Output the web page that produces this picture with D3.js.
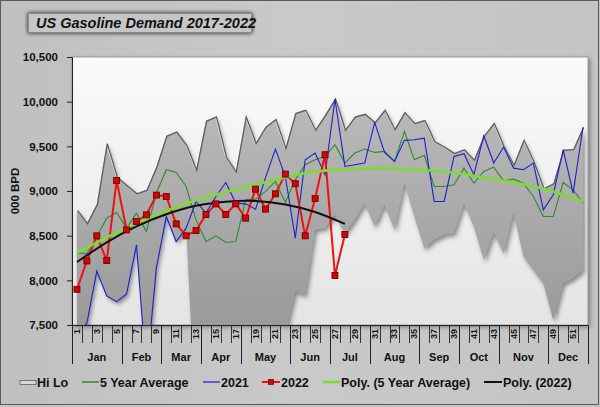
<!DOCTYPE html>
<html><head><meta charset="utf-8">
<script src="https://cdn.jsdelivr.net/npm/d3@7"></script>
<style>
body{margin:0;background:#fff}
svg{display:block;font-family:"Liberation Sans",Arial,sans-serif}
</style>
</head><body>
<svg id="c" width="600" height="407"></svg>
<script>
// ---------- data ----------
const weeks = d3.range(1, 53);
const months = ["Jan","Feb","Mar","Apr","May","Jun","Jul","Aug","Sep","Oct","Nov","Dec"];
const monthWeekCounts = [5,4,4,4,5,4,4,5,4,4,5,4];
const yTicks = [7500, 8000, 8500, 9000, 9500, 10000, 10500];

const hiLoHigh = [8789,8640,8856,9537,9162,9069,8976,9013,9275,9619,9667,9518,9238,9787,9835,9387,9219,9835,9537,9720,
  9806,9481,9873,9910,9686,9854,10035,9686,9835,9865,9770,9910,9693,9884,9761,9795,9560,9499,9425,9469,
  9350,9620,9761,9499,9294,9574,9331,9032,9088,9462,9469,9716];
const hiLoLow = [7400,7522,8105,7825,7761,7847,8397,6950,8139,8714,8434,8584,6400,5100,5150,5350,5650,6000,6400,6700,
  7000,7400,7874,7836,8565,8584,8733,8528,8677,8864,8602,8845,8565,9088,8714,8360,8453,8509,8528,8864,
  8602,8229,8535,8303,8752,8266,8117,7967,7556,7967,8023,8117];
const avg5 = [8310,8296,8490,8696,8759,8584,8752,8546,8976,9238,9208,9050,8677,8434,8498,8423,8434,8901,8909,8995,
  9107,8871,9125,9294,9350,9387,9518,9313,9425,9469,9432,9443,9331,9667,9350,9400,9050,9050,9069,9256,
  9088,9219,9268,9114,9133,9088,8939,8714,8714,9095,9013,8864];
const y2021 = [7400,7522,8105,7825,7761,7847,8397,6950,8139,8714,8434,8584,8883,8752,8939,9095,8864,8856,8797,9150,
  9469,9162,8472,9350,9425,9182,10030,9275,9294,9313,9768,9432,9331,9567,9574,9592,8883,8883,9387,9417,
  9182,9619,9313,9492,9256,9238,9313,8789,8957,9462,8976,9716];
const y2022 = [7900,8217,8498,8221,9118,8565,8658,8733,8954,8939,8632,8498,8557,8737,8856,8737,8856,8696,9021,8797,
  8968,9189,9081,8498,8916,9406,8053,8513];
// trendlines
const trendAvgWeeks = [1,4,7,10,13,16,19,23,26,30,33,36,39,42,46,49,52];
const trendAvgVals  = [8310,8480,8640,8780,8895,8990,9070,9180,9228,9249,9249,9232,9205,9150,9075,8995,8883];
const trend22Weeks = [1,4,7,10,13,16,19,22,25,28];
const trend22Vals  = [8205,8425,8605,8740,8835,8880,8888,8850,8765,8632];

const legendItems = ["Hi Lo","5 Year Average","2021","2022","Poly. (5 Year Average)","Poly. (2022)"];

// ---------- layout ----------
const W = 600, H = 407;
const P = {l:72, r:588, t:57, b:325};
const svg = d3.select("#c");
const defs = svg.append("defs");

const bgGrad = defs.append("linearGradient").attr("id","bg").attr("x1",0).attr("x2",1).attr("y1",0).attr("y2",0);
bgGrad.append("stop").attr("offset","0%").attr("stop-color","#c0c0c0");
bgGrad.append("stop").attr("offset","50%").attr("stop-color","#c9c9c9");
bgGrad.append("stop").attr("offset","100%").attr("stop-color","#c4c4c4");

const plotGrad = defs.append("linearGradient").attr("id","pg").attr("x1",0).attr("x2",0).attr("y1",0).attr("y2",1);
plotGrad.append("stop").attr("offset","0%").attr("stop-color","#fbfbfb");
plotGrad.append("stop").attr("offset","100%").attr("stop-color","#e4e4e4");

const areaGrad = defs.append("linearGradient").attr("id","ag").attr("gradientUnits","userSpaceOnUse")
  .attr("x1",0).attr("x2",0).attr("y1",P.t).attr("y2",P.b);
areaGrad.append("stop").attr("offset","0%").attr("stop-color","#c0c0c0");
areaGrad.append("stop").attr("offset","100%").attr("stop-color","#9a9a9a");

const sh = defs.append("filter").attr("id","blur").attr("x","-10%").attr("y","-10%").attr("width","120%").attr("height","120%");
sh.append("feGaussianBlur").attr("stdDeviation",2);
const sh2 = defs.append("filter").attr("id","tshadow").attr("x","-20%").attr("y","-50%").attr("width","140%").attr("height","200%");
sh2.append("feGaussianBlur").attr("in","SourceAlpha").attr("stdDeviation",2.2);

defs.append("clipPath").attr("id","clip").append("rect")
  .attr("x",P.l).attr("y",P.t).attr("width",P.r-P.l).attr("height",P.b-P.t);

// background
svg.append("rect").attr("x",0).attr("y",0).attr("width",W).attr("height",H).attr("fill","#c4c4c4");
svg.append("rect").attr("x",0.5).attr("y",0.5).attr("width",598).attr("height",404)
  .attr("fill","url(#bg)").attr("stroke","#5a5a5a");

// scales
const x = d3.scaleBand().domain(weeks).range([P.l, P.r]).padding(0);
const bw = x.bandwidth();
const xc = w => x(w) + bw/2;
const y = d3.scaleLinear().domain([7500, 10500]).range([P.b, P.t]);
const xT = d3.scaleLinear().domain([1,52]).range([xc(1), xc(52)]);

// plot area with shadow
svg.append("rect").attr("x",P.l+2).attr("y",P.t+2).attr("width",P.r-P.l).attr("height",P.b-P.t)
  .attr("fill","#555").attr("filter","url(#blur)").attr("opacity",0.7);
svg.append("rect").attr("x",P.l).attr("y",P.t).attr("width",P.r-P.l).attr("height",P.b-P.t)
  .attr("fill","url(#pg)").attr("stroke","#9a9a9a");

const g = svg.append("g").attr("clip-path","url(#clip)");

// Hi-Lo band
const hl = weeks.map((w,i)=>({w, hi:hiLoHigh[i], lo:hiLoLow[i]}));
const area = d3.area().x(d=>xc(d.w)).y0(d=>y(d.lo)).y1(d=>y(d.hi));
g.append("path").datum(hl).attr("d",area).attr("transform","translate(2,3)")
  .attr("fill","#3a3a3a").attr("opacity",0.55).attr("filter","url(#blur)");
g.append("path").datum(hl).attr("d",area).attr("fill","url(#ag)");
const hiLine = d3.line().x(d=>xc(d.w)).y(d=>y(d.hi));
g.append("path").datum(hl).attr("d",hiLine).attr("transform","translate(-0.5,-1)")
  .attr("fill","none").attr("stroke","#f4f4f4").attr("stroke-width",1.2);
g.append("path").datum(hl).attr("d",hiLine).attr("transform","translate(0.6,0.6)")
  .attr("fill","none").attr("stroke","#5e5e5e").attr("stroke-width",1.3);

const line = d3.line().x(d=>xc(d.w)).y(d=>y(d.v));
const ser = (arr) => arr.map((v,i)=>({w:weeks[i], v}));

g.append("path").datum(ser(avg5)).attr("d",line).attr("fill","none").attr("stroke","#2e8a2e").attr("stroke-width",1.1);
g.append("path").datum(ser(y2021)).attr("d",line).attr("fill","none").attr("stroke","#1f1fd0").attr("stroke-width",1.1);

const tline = d3.line().x(d=>xT(d.w)).y(d=>y(d.v)).curve(d3.curveNatural);
g.append("path").datum(ser(y2022)).attr("d",line).attr("fill","none").attr("stroke","#ee1111").attr("stroke-width",2);
g.append("path").datum(trendAvgWeeks.map((w,i)=>({w, v:trendAvgVals[i]}))).attr("d",tline)
  .attr("fill","none").attr("stroke","#7ddc2e").attr("stroke-width",2.6);
g.append("path").datum(trend22Weeks.map((w,i)=>({w, v:trend22Vals[i]}))).attr("d",tline)
  .attr("fill","none").attr("stroke","#111").attr("stroke-width",2);
g.selectAll("rect.m").data(ser(y2022)).join("rect").attr("class","m")
  .attr("x",d=>xc(d.w)-3).attr("y",d=>y(d.v)-3).attr("width",6).attr("height",6)
  .attr("fill","#dd0000").attr("stroke","#5a0000").attr("stroke-width",0.8);

// y axis
const ya = svg.append("g").attr("transform",`translate(${P.l},0)`)
  .call(d3.axisLeft(y).tickValues(yTicks).tickFormat(d3.format(",")).tickSize(5).tickPadding(9));
ya.select(".domain").attr("stroke","#222");
ya.selectAll(".tick line").attr("stroke","#222");
ya.selectAll("text").attr("font-size","11.5px").attr("font-weight","bold").attr("fill","#111")
  .attr("font-family","Liberation Sans, Arial, sans-serif");

svg.append("text").attr("transform",`translate(16,${(P.t+P.b)/2}) rotate(-90)`)
  .attr("text-anchor","middle").attr("dominant-baseline","middle")
  .attr("font-size","11.5px").attr("font-weight","bold").attr("fill","#111").text("000 BPD");

// x axis
const xa = svg.append("g").attr("transform",`translate(0,${P.b})`)
  .call(d3.axisBottom(x).tickValues(weeks.filter(w=>w%2===1)).tickSize(0).tickPadding(0));
xa.select(".domain").remove();
xa.selectAll(".tick text")
  .attr("transform","translate(0,4) rotate(-90)")
  .attr("text-anchor","end").attr("dy","0.33em").attr("dx","0")
  .attr("x",0).attr("y",0)
  .attr("font-size","9px").attr("font-weight","bold").attr("fill","#111")
  .attr("font-family","Liberation Sans, Arial, sans-serif");
svg.append("line").attr("x1",P.l).attr("x2",P.r).attr("y1",P.b+0.5).attr("y2",P.b+0.5).attr("stroke","#222");
// week boundary ticks
const bounds = weeks.map(w=>x(w)).concat([P.r]);
svg.append("g").selectAll("line").data(bounds).join("line")
  .attr("x1",d=>Math.round(d)+0.5).attr("x2",d=>Math.round(d)+0.5)
  .attr("y1",P.b).attr("y2",P.b+18).attr("stroke","#222").attr("stroke-width",0.9);
// month groups
let cum = 0;
const mg = months.map((m,i)=>{ const s = cum; cum += monthWeekCounts[i]; return {m, s:s+1, e:cum}; });
const mBounds = [x(1)].concat(mg.map(d=>x(d.e)+bw));
svg.append("g").selectAll("line").data(mBounds).join("line")
  .attr("x1",d=>Math.round(d)+0.5).attr("x2",d=>Math.round(d)+0.5)
  .attr("y1",P.b).attr("y2",P.b+39).attr("stroke","#222").attr("stroke-width",1);
svg.append("g").selectAll("text").data(mg).join("text")
  .attr("x",d=>(x(d.s)+x(d.e)+bw)/2).attr("y",P.b+36)
  .attr("text-anchor","middle").attr("font-size","11px").attr("font-weight","bold").attr("fill","#111")
  .text(d=>d.m);

// title
svg.append("rect").attr("x",28).attr("y",13).attr("width",224).attr("height",20)
  .attr("fill","#000").attr("filter","url(#tshadow)").attr("opacity",0.9);
svg.append("rect").attr("x",28.5).attr("y",13.5).attr("width",223).attr("height",19)
  .attr("fill","#c6c6c6").attr("stroke","#8a8a8a");
svg.append("text").attr("x",36).attr("y",28).attr("font-size","14.5px").attr("font-weight","bold")
  .attr("font-style","italic").attr("fill","#111").text("US Gasoline Demand 2017-2022");

// legend
const lg = svg.append("g").attr("font-size","12.5px").attr("font-weight","bold").attr("fill","#111");
const lx = [20, 82, 203, 262, 323, 484];
const lw = [16, 17, 17, 18, 17, 18];
const ly = 382;
lg.append("rect").attr("x",lx[0]).attr("y",ly-1.5).attr("width",lw[0]).attr("height",4)
  .attr("fill","#d8d8d8").attr("stroke","#6a6a6a").attr("stroke-width",0.9);
const lcol = [null,"#2e8a2e","#3a3ae0","#ee1111","#7ddc2e","#111"];
const lsw = [0,1.5,1.5,2,2.5,2];
for (let i=1;i<6;i++){
  lg.append("line").attr("x1",lx[i]).attr("x2",lx[i]+lw[i]).attr("y1",ly).attr("y2",ly)
    .attr("stroke",lcol[i]).attr("stroke-width",lsw[i]);
}
lg.append("rect").attr("x",lx[3]+lw[3]/2-2.5).attr("y",ly-2.5).attr("width",5).attr("height",5)
  .attr("fill","#dd0000").attr("stroke","#5a0000").attr("stroke-width",0.7);
lg.selectAll("text").data(legendItems).join("text")
  .attr("x",(d,i)=>lx[i]+lw[i]+1).attr("y",ly).attr("dy","0.36em").text(d=>d);
</script>
</body></html>
